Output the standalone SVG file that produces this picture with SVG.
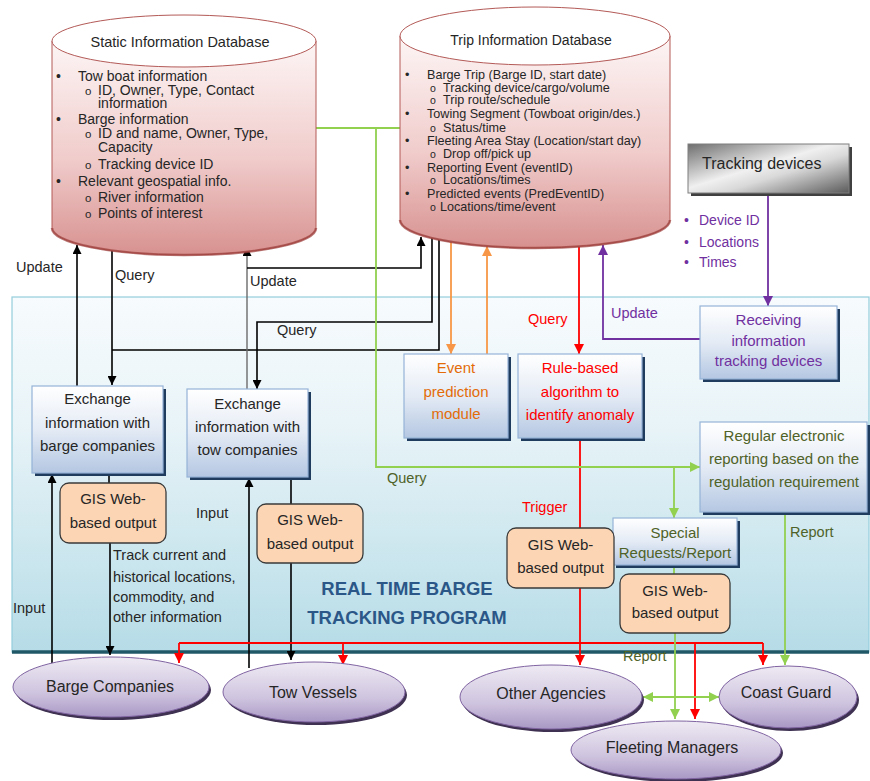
<svg xmlns="http://www.w3.org/2000/svg" width="870" height="781" viewBox="0 0 870 781">
<style>
text{font-family:"Liberation Sans",Arial,sans-serif;fill:#262626}
.db{font-size:14px}
.tdb{font-size:12.6px}
.bx{font-size:15px;text-anchor:middle}
.lbl{font-size:14.5px}
.el{font-size:16px;text-anchor:middle}
.or{fill:#e36c09}
.rd{fill:#ff0000}
.pu{fill:#7030a0}
.gr{fill:#4f6228}
.ln{fill:none;stroke-linejoin:miter}
.k{stroke:#000;stroke-width:1.6}
.g{stroke:#92d050;stroke-width:1.8}
.r{stroke:#ff0000;stroke-width:1.8}
.o{stroke:#f79646;stroke-width:1.8}
.p{stroke:#7030a0;stroke-width:1.8}
.box{fill:url(#boxG);stroke:#95b3d7;stroke-width:1.2}
.shd{fill:#1f3b5e}
.gis{fill:#fcd5b4;stroke:#3a3a3a;stroke-width:1.3}
.ell{fill:url(#ellG);stroke:#8064a2;stroke-width:1}
.ellS{fill:#3f3151}
</style>
<defs>
<linearGradient id="panelG" x1="0" y1="0" x2="0" y2="1">
<stop offset="0" stop-color="#f7fbfd"/><stop offset="0.35" stop-color="#e9f4f8"/><stop offset="1" stop-color="#b6dce7"/>
</linearGradient>
<linearGradient id="cylG" x1="0" y1="0" x2="0" y2="1">
<stop offset="0" stop-color="#fdf5f5"/><stop offset="0.55" stop-color="#f0cccb"/><stop offset="1" stop-color="#d7918f"/>
</linearGradient>
<linearGradient id="boxG" x1="0" y1="0" x2="0" y2="1">
<stop offset="0" stop-color="#ffffff"/><stop offset="0.5" stop-color="#e4ebf5"/><stop offset="1" stop-color="#b4c7e2"/>
</linearGradient>
<linearGradient id="ellG" x1="0" y1="0" x2="0" y2="1">
<stop offset="0" stop-color="#eeeaf3"/><stop offset="0.6" stop-color="#cfc4df"/><stop offset="1" stop-color="#a898c4"/>
</linearGradient>
<linearGradient id="trkG" x1="0" y1="0" x2="1" y2="1">
<stop offset="0" stop-color="#6e6e6e"/><stop offset="0.45" stop-color="#f0f0f0"/><stop offset="0.6" stop-color="#d9d9d9"/><stop offset="1" stop-color="#5a5a5a"/>
</linearGradient>
<marker id="aK" viewBox="0 0 10 10" refX="10" refY="5" markerWidth="9" markerHeight="9" markerUnits="userSpaceOnUse" orient="auto"><path d="M0,0L10,5L0,10z" fill="#000"/></marker>
<marker id="aR" viewBox="0 0 10 10" refX="10" refY="5" markerWidth="10" markerHeight="10" markerUnits="userSpaceOnUse" orient="auto"><path d="M0,0L10,5L0,10z" fill="#ff0000"/></marker>
<marker id="aO" viewBox="0 0 10 10" refX="10" refY="5" markerWidth="10" markerHeight="10" markerUnits="userSpaceOnUse" orient="auto"><path d="M0,0L10,5L0,10z" fill="#f79646"/></marker>
<marker id="aP" viewBox="0 0 10 10" refX="10" refY="5" markerWidth="10" markerHeight="10" markerUnits="userSpaceOnUse" orient="auto"><path d="M0,0L10,5L0,10z" fill="#7030a0"/></marker>
<marker id="aG" viewBox="0 0 10 10" refX="10" refY="5" markerWidth="10" markerHeight="10" markerUnits="userSpaceOnUse" orient="auto-start-reverse"><path d="M0,0L10,5L0,10z" fill="#92d050"/></marker>
</defs>

<g id="panel">
<rect x="12" y="297" width="857" height="355" fill="url(#panelG)" stroke="#93cddd" stroke-width="1.2"/>
<line x1="12" y1="652" x2="869" y2="652" stroke="#215868" stroke-width="3.5"/>
<text x="407" y="595" font-size="18.5" font-weight="bold" text-anchor="middle" style="fill:#2b5788">REAL TIME BARGE</text>
<text x="407" y="624" font-size="18.5" font-weight="bold" text-anchor="middle" style="fill:#2b5788">TRACKING PROGRAM</text>
</g>

<g id="connectors">
<!-- black -->
<path class="ln k" stroke-width="2.2" d="M77,386V245" marker-end="url(#aK)"/>
<path class="ln k" d="M112,251V385" marker-end="url(#aK)"/>
<path class="ln k" d="M439,240V350H112"/>
<path class="ln" stroke="#6b6b6b" stroke-width="1.4" d="M247,389V247" marker-end="url(#aK)"/>
<path class="ln k" d="M247,268H421V237" marker-end="url(#aK)"/>
<path class="ln k" stroke-width="2" d="M432,238V322H257V389" marker-end="url(#aK)"/>
<path class="ln k" d="M52,665V474" marker-end="url(#aK)"/>
<path class="ln k" d="M109,473V483"/>
<path class="ln k" d="M110,543V655" marker-end="url(#aK)"/>
<path class="ln k" d="M249,668V478" marker-end="url(#aK)"/>
<path class="ln k" d="M291,477V504"/>
<path class="ln k" d="M291,563V660" marker-end="url(#aK)"/>
<!-- orange -->
<path class="ln o" d="M451,242V354" marker-end="url(#aO)"/>
<path class="ln o" d="M487,354V246" marker-end="url(#aO)"/>
<!-- red -->
<path class="ln r" d="M579,247V354" marker-end="url(#aR)"/>
<path class="ln r" d="M580,438V665" marker-end="url(#aR)"/>
<path class="ln r" d="M179,643H763"/>
<path class="ln r" d="M179,643V663" marker-end="url(#aR)"/>
<path class="ln r" d="M343,643V665" marker-end="url(#aR)"/>
<path class="ln r" d="M763,643V665" marker-end="url(#aR)"/>
<path class="ln r" d="M695,643V719" marker-end="url(#aR)"/>
<!-- purple -->
<path class="ln p" d="M768,193V306" marker-end="url(#aP)"/>
<path class="ln p" d="M700,339H603V245" marker-end="url(#aP)"/>
<!-- green -->
<path class="ln g" d="M316,128H400"/>
<path class="ln g" d="M376,128V467H700" marker-end="url(#aG)"/>
<path class="ln g" d="M674,467V518" marker-end="url(#aG)"/>
<path class="ln g" d="M674,565V574"/>
<path class="ln g" d="M675,633V719" marker-end="url(#aG)"/>
<path class="ln g" d="M785,512V665" marker-end="url(#aG)"/>
<path class="ln g" d="M643,697H719" marker-start="url(#aG)" marker-end="url(#aG)"/>
<!-- labels -->
<text class="lbl" x="16" y="272">Update</text>
<text class="lbl" x="115" y="280">Query</text>
<text class="lbl" x="250" y="286">Update</text>
<text class="lbl" x="277" y="335">Query</text>
<text class="lbl" x="13" y="613">Input</text>
<text class="lbl" x="196" y="518">Input</text>
<text class="lbl" x="113" y="560">Track current and</text>
<text class="lbl" x="113" y="582">historical locations,</text>
<text class="lbl" x="113" y="602">commodity, and</text>
<text class="lbl" x="113" y="622">other information</text>
<text class="lbl rd" x="528" y="324">Query</text>
<text class="lbl rd" x="522" y="512">Trigger</text>
<text class="lbl pu" x="611" y="318">Update</text>
<text class="lbl gr" x="387" y="483">Query</text>
<text class="lbl gr" x="790" y="537">Report</text>
<text class="lbl gr" x="623" y="661">Report</text>
</g>

<g id="static-db">
<path d="M52,41V228A132,27 0 0 0 316,228V41Z" fill="url(#cylG)" stroke="#b35a57" stroke-width="1"/>
<path d="M52,228A132,27 0 0 0 316,228" fill="none" stroke="#9c3f3c" stroke-width="2.5" opacity="0.7"/>
<ellipse cx="184" cy="41" rx="132" ry="26" fill="#fff" stroke="#b35a57" stroke-width="1"/>
<text x="180" y="47" font-size="14.5" text-anchor="middle">Static Information Database</text>
<g class="db">
<text x="56" y="81">•</text><text x="78" y="81">Tow boat information</text>
<text x="85" y="95" font-size="11.5">o</text><text x="98" y="95">ID, Owner, Type, Contact</text>
<text x="98" y="108">information</text>
<text x="56" y="124">•</text><text x="78" y="124">Barge information</text>
<text x="85" y="138" font-size="11.5">o</text><text x="98" y="138">ID and name, Owner, Type,</text>
<text x="98" y="152">Capacity</text>
<text x="85" y="169" font-size="11.5">o</text><text x="98" y="169">Tracking device ID</text>
<text x="56" y="186">•</text><text x="78" y="186">Relevant geospatial info.</text>
<text x="85" y="202" font-size="11.5">o</text><text x="98" y="202">River information</text>
<text x="85" y="218" font-size="11.5">o</text><text x="98" y="218">Points of interest</text>
</g>
</g>

<g id="trip-db">
<path d="M400,36V220A135,28 0 0 0 670,220V36Z" fill="url(#cylG)" stroke="#b35a57" stroke-width="1"/>
<path d="M400,220A135,28 0 0 0 670,220" fill="none" stroke="#9c3f3c" stroke-width="2.5" opacity="0.7"/>
<ellipse cx="535" cy="36" rx="135" ry="29" fill="#fff" stroke="#b35a57" stroke-width="1"/>
<text x="531" y="45" font-size="14" text-anchor="middle">Trip Information Database</text>
<g class="tdb">
<text x="405" y="78.5">•</text><text x="427" y="78.5">Barge Trip (Barge ID, start date)</text>
<text x="430" y="91.5" font-size="10.5">o</text><text x="443" y="91.5">Tracking device/cargo/volume</text>
<text x="430" y="103.5" font-size="10.5">o</text><text x="443" y="103.5">Trip route/schedule</text>
<text x="405" y="117.5">•</text><text x="427" y="117.5">Towing Segment (Towboat origin/des.)</text>
<text x="430" y="131.5" font-size="10.5">o</text><text x="443" y="131.5">Status/time</text>
<text x="405" y="144.5">•</text><text x="427" y="144.5">Fleeting Area Stay (Location/start day)</text>
<text x="430" y="157.5" font-size="10.5">o</text><text x="443" y="157.5">Drop off/pick up</text>
<text x="405" y="171.5">•</text><text x="427" y="171.5">Reporting Event (eventID)</text>
<text x="430" y="183.5" font-size="10.5">o</text><text x="443" y="183.5">Locations/times</text>
<text x="405" y="197.5">•</text><text x="427" y="197.5">Predicted events (PredEventID)</text>
<text x="430" y="210.5" font-size="10.5">o</text><text x="440" y="210.5">Locations/time/event</text>
</g>
</g>

<g id="tracking-devices">
<rect x="691" y="147" width="161" height="49" fill="#404040"/>
<rect x="688" y="144" width="161" height="49" fill="url(#trkG)" stroke="#7f7f7f" stroke-width="1"/>
<text x="702" y="169" font-size="16">Tracking devices</text>
<g font-size="14">
<text x="684" y="225" class="pu">•</text><text x="699" y="225" class="pu">Device ID</text>
<text x="684" y="247" class="pu">•</text><text x="699" y="247" class="pu">Locations</text>
<text x="684" y="267" class="pu">•</text><text x="699" y="267" class="pu">Times</text>
</g>
</g>

<g id="receiving">
<rect x="703" y="309" width="137" height="73" class="shd"/>
<rect x="700" y="306" width="137" height="73" class="box"/>
<text class="bx pu" x="768.5" y="325">Receiving</text>
<text class="bx pu" x="768.5" y="346">information</text>
<text class="bx pu" x="768.5" y="366">tracking devices</text>
</g>

<g id="exchange-barge">
<rect x="35" y="389" width="131" height="87" class="shd"/>
<rect x="32" y="386" width="131" height="87" class="box"/>
<text class="bx" x="97.5" y="404">Exchange</text>
<text class="bx" x="97.5" y="428">information with</text>
<text class="bx" x="97.5" y="451">barge companies</text>
</g>

<g id="exchange-tow">
<rect x="190" y="392" width="121" height="88" class="shd"/>
<rect x="187" y="389" width="121" height="88" class="box"/>
<text class="bx" x="247.5" y="409">Exchange</text>
<text class="bx" x="247.5" y="432">information with</text>
<text class="bx" x="247.5" y="455">tow companies</text>
</g>

<g id="event-prediction">
<rect x="407" y="357" width="104" height="84" class="shd"/>
<rect x="404" y="354" width="104" height="84" class="box"/>
<text class="bx or" x="456" y="373">Event</text>
<text class="bx or" x="456" y="397">prediction</text>
<text class="bx or" x="456" y="419">module</text>
</g>

<g id="rule-based">
<rect x="521" y="357" width="124" height="84" class="shd"/>
<rect x="518" y="354" width="124" height="84" class="box"/>
<text class="bx rd" x="580" y="373">Rule-based</text>
<text class="bx rd" x="580" y="397">algorithm to</text>
<text class="bx rd" x="580" y="420">identify anomaly</text>
</g>

<g id="regular-reporting">
<rect x="703" y="425" width="167" height="90" class="shd"/>
<rect x="700" y="422" width="167" height="90" class="box"/>
<text class="bx gr" x="784" y="441">Regular electronic</text>
<text class="bx gr" x="784" y="464">reporting based on the</text>
<text class="bx gr" x="784" y="487">regulation requirement</text>
</g>

<g id="special-requests">
<rect x="616" y="521" width="124" height="47" class="shd"/>
<rect x="613" y="518" width="124" height="47" class="box"/>
<text class="bx gr" x="675" y="538">Special</text>
<text class="bx gr" x="675" y="558">Requests/Report</text>
</g>

<g id="gis-barge">
<rect x="60" y="483" width="106" height="60" rx="9" class="gis"/>
<text class="bx" x="113" y="504">GIS Web-</text>
<text class="bx" x="113" y="528">based output</text>
</g>
<g id="gis-tow">
<rect x="257" y="504" width="106" height="59" rx="9" class="gis"/>
<text class="bx" x="310" y="525">GIS Web-</text>
<text class="bx" x="310" y="549">based output</text>
</g>
<g id="gis-trigger">
<rect x="507" y="528" width="107" height="60" rx="9" class="gis"/>
<text class="bx" x="560.5" y="550">GIS Web-</text>
<text class="bx" x="560.5" y="573">based output</text>
</g>
<g id="gis-special">
<rect x="620" y="574" width="110" height="59" rx="9" class="gis"/>
<text class="bx" x="675" y="596">GIS Web-</text>
<text class="bx" x="675" y="618">based output</text>
</g>

<g id="barge-companies">
<ellipse cx="113" cy="690" rx="98" ry="30" class="ellS"/>
<ellipse cx="111" cy="687" rx="98" ry="30" class="ell"/>
<text class="el" x="110" y="692">Barge Companies</text>
</g>
<g id="tow-vessels">
<ellipse cx="316" cy="695" rx="91" ry="30" class="ellS"/>
<ellipse cx="314" cy="692" rx="91" ry="30" class="ell"/>
<text class="el" x="313" y="698">Tow Vessels</text>
</g>
<g id="other-agencies">
<ellipse cx="553" cy="700" rx="91" ry="32" class="ellS"/>
<ellipse cx="551" cy="697" rx="91" ry="32" class="ell"/>
<text class="el" x="551" y="699">Other Agencies</text>
</g>
<g id="coast-guard">
<ellipse cx="790" cy="700" rx="69" ry="31" class="ellS"/>
<ellipse cx="788" cy="697" rx="69" ry="31" class="ell"/>
<text class="el" x="786" y="698">Coast Guard</text>
</g>
<g id="fleeting-managers">
<ellipse cx="678" cy="753" rx="105" ry="29" class="ellS"/>
<ellipse cx="676" cy="750" rx="105" ry="29" class="ell"/>
<text class="el" x="672" y="753">Fleeting Managers</text>
</g>
</svg>
